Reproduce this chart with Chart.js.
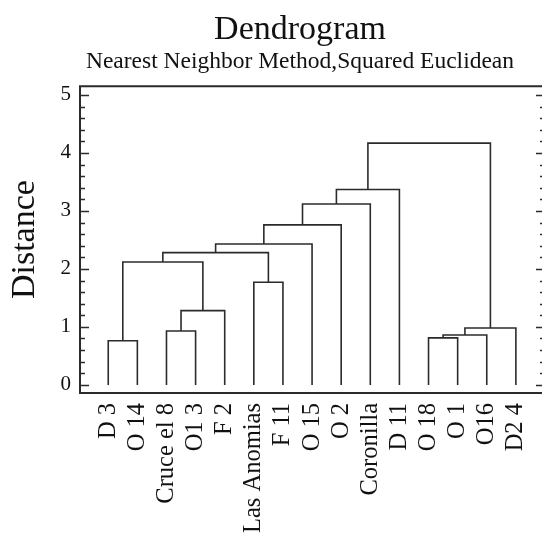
<!DOCTYPE html>
<html>
<head>
<meta charset="utf-8">
<script src="https://cdn.jsdelivr.net/npm/chart.js@4.4.1/dist/chart.umd.min.js"></script>
<style>
  html, body { margin: 0; padding: 0; background: #fff; overflow: hidden; width: 542px; height: 538px; }
  canvas { display: block; }
</style>
</head>
<body>
<canvas id="myChart" width="600" height="538" style="width:600px;height:538px"></canvas>
<script>
// 잎(leaf) 이름
var v_leaves = ["D 3", "O 14", "Cruce el 8", "O1 3", "F 2", "Las Anomias", "F 11", "O 15",
                "O 2", "Coronilla", "D 11", "O 18", "O 1", "O16", "D2 4"];
// 병합 정보: 새 클러스터 번호 = 15 + 순서
var v_mergeA = [0, 2, 16, 15, 5, 18, 20, 21, 22, 23, 11, 25, 26, 24];
var v_mergeB = [1, 3, 4, 17, 6, 19, 7, 8, 9, 10, 12, 13, 14, 27];
var v_mergeH = [0.76, 0.93, 1.28, 2.12, 1.77, 2.28, 2.43, 2.76, 3.12, 3.37, 0.81, 0.86, 0.98, 4.17];
var v_yTicks = [0, 1, 2, 3, 4, 5];

var v_font = "'Liberation Serif', 'Times New Roman', serif";
var v_ink = "#2b2b2b";

// 클러스터 위치, 높이 계산
var v_pos = [], v_hgt = [];
for (var i = 0; i < v_leaves.length; i++) { v_pos.push(i); v_hgt.push(0); }
var v_sets = [];
for (var m = 0; m < v_mergeH.length; m++) {
  var a = v_mergeA[m], b = v_mergeB[m], h = v_mergeH[m];
  v_sets.push({
    data: [{x: v_pos[a], y: v_hgt[a]}, {x: v_pos[a], y: h}, {x: v_pos[b], y: h}, {x: v_pos[b], y: v_hgt[b]}],
    showLine: true, borderColor: v_ink, borderWidth: 1.6, pointRadius: 0, fill: false
  });
  v_pos.push((v_pos[a] + v_pos[b]) / 2);
  v_hgt.push(h);
}

// 테두리 + 안쪽 눈금
var framePlugin = {
  id: "frame",
  afterDraw: function (chart) {
    var ctx = chart.ctx, ca = chart.chartArea, ys = chart.scales.y;
    ctx.save();
    ctx.strokeStyle = v_ink;
    ctx.lineWidth = 1.3;
    for (var k = 0; k <= 25; k++) {
      var v = k * 0.2;
      var py = Math.round(ys.getPixelForValue(v)) + 0.5;
      var len = (k % 5 == 0) ? 9 : 5;
      ctx.beginPath();
      ctx.moveTo(ca.left, py); ctx.lineTo(ca.left + len, py);
      ctx.moveTo(ca.right, py); ctx.lineTo(ca.right - len, py);
      ctx.stroke();
    }
    ctx.lineWidth = 2;
    ctx.strokeRect(ca.left, ca.top, ca.right - ca.left, ca.bottom - ca.top);
    ctx.restore();
  }
};

var ctx = document.getElementById("myChart").getContext("2d");
var myChart = new Chart(ctx, {
  type: "scatter",
  data: { datasets: v_sets },
  plugins: [framePlugin],
  options: {
    responsive: false,
    animation: false,
    devicePixelRatio: 1,
    layout: { padding: 0 },
    plugins: {
      legend: { display: false },
      tooltip: { enabled: false },
      title: {
        display: true, text: "Dendrogram", color: "#111",
        font: { family: v_font, size: 34, weight: "normal", lineHeight: 1.1 },
        padding: { top: 11, bottom: 0 }
      },
      subtitle: {
        display: true, text: "Nearest Neighbor Method,Squared Euclidean", color: "#111",
        font: { family: v_font, size: 23.5, weight: "normal", lineHeight: 1.1 },
        padding: { top: 1, bottom: 11 }
      }
    },
    scales: {
      x: {
        type: "linear", min: -0.97, max: 15,
        grid: { display: false, drawTicks: false },
        border: { display: false },
        afterBuildTicks: function (s) { s.ticks = v_leaves.map(function (t, i) { return {value: i}; }); },
        afterFit: function (s) { s.height = 145; },
        ticks: {
          autoSkip: false, minRotation: 90, maxRotation: 90, padding: 10, color: "#111",
          font: { family: v_font, size: 24.5 },
          callback: function (v) { return v_leaves[v]; }
        }
      },
      y: {
        type: "linear", min: -0.14, max: 5.15,
        grid: { display: false, drawTicks: false },
        border: { display: false },
        afterBuildTicks: function (s) { s.ticks = v_yTicks.map(function (t) { return {value: t}; }); },
        afterFit: function (s) { s.width = 80; },
        ticks: { padding: 9, color: "#111", font: { family: v_font, size: 21 } },
        title: {
          display: true, text: "Distance", color: "#111",
          font: { family: v_font, size: 34, weight: "normal", lineHeight: 1.2 },
          padding: { top: 5, bottom: 0 }
        }
      },
      // 오른쪽 여백용 (그림 밖으로 잘리는 부분)
      yRight: {
        type: "linear", position: "right", min: -0.14, max: 5.15,
        grid: { display: false, drawTicks: false },
        border: { display: false },
        ticks: { display: false },
        afterFit: function (s) { s.width = 55; }
      }
    }
  }
});
</script>
</body>
</html>
